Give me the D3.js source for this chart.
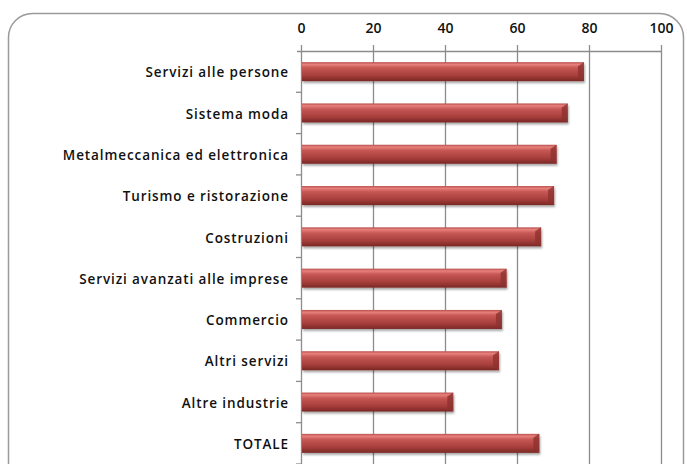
<!DOCTYPE html>
<html>
<head>
<meta charset="utf-8">
<script src="https://cdn.jsdelivr.net/npm/d3@7"></script>
<style>
  body { margin: 0; background: #fff; }
  svg text { font-family: "Open Sans", "DejaVu Sans", sans-serif; fill: #111; }
</style>
</head>
<body>
<div id="chart"></div>
<script>
// categories and values
var categories = [
  "Servizi alle persone",
  "Sistema moda",
  "Metalmeccanica ed elettronica",
  "Turismo e ristorazione",
  "Costruzioni",
  "Servizi avanzati alle imprese",
  "Commercio",
  "Altri servizi",
  "Altre industrie",
  "TOTALE"
];
var values = [78.6, 74.1, 71.0, 70.3, 66.7, 57.1, 55.8, 55.0, 42.3, 66.2];
var ticks = [0, 20, 40, 60, 80, 100];

var W = 687, H = 464;
var margin = { top: 51, right: 26, bottom: 0, left: 301 };
var width = 661 - margin.left,
    height = 464 - margin.top;

var svg = d3.select("#chart").append("svg")
    .attr("width", W)
    .attr("height", H);

var defs = svg.append("defs");
var grad = defs.append("linearGradient")
    .attr("id", "barGrad")
    .attr("x1", 0).attr("y1", 0).attr("x2", 0).attr("y2", 1);
grad.append("stop").attr("offset", "0%").attr("stop-color", "#b84e4b");
grad.append("stop").attr("offset", "12%").attr("stop-color", "#e8807c");
grad.append("stop").attr("offset", "30%").attr("stop-color", "#c65754");
grad.append("stop").attr("offset", "70%").attr("stop-color", "#a73f3c");
grad.append("stop").attr("offset", "100%").attr("stop-color", "#7a2725");

var shadow = defs.append("filter").attr("id", "shadow")
    .attr("x", "-5%").attr("y", "-20%").attr("width", "110%").attr("height", "160%");
shadow.append("feGaussianBlur").attr("in", "SourceAlpha").attr("stdDeviation", 1.2);
shadow.append("feOffset").attr("dx", 1).attr("dy", 1.5).attr("result", "off");
shadow.append("feComponentTransfer").append("feFuncA").attr("type", "linear").attr("slope", 0.35);
var merge = shadow.append("feMerge");
merge.append("feMergeNode");
merge.append("feMergeNode").attr("in", "SourceGraphic");

// outer rounded frame
svg.append("rect")
    .attr("x", 8.5).attr("y", 13.5)
    .attr("width", 675).attr("height", 480)
    .attr("rx", 24).attr("ry", 24)
    .attr("fill", "none")
    .attr("stroke", "#9a9a9a")
    .attr("stroke-width", 1.5);

var g = svg.append("g")
    .attr("transform", "translate(" + margin.left + "," + margin.top + ")");

var x = d3.scaleLinear().domain([0, 100]).range([0, width]);
var y = d3.scaleBand().domain(categories).range([0, height]).paddingInner(0.54).paddingOuter(0.27);
var band = d3.scaleBand().domain(categories).range([0, height]);

// vertical gridlines
g.selectAll(".grid")
    .data(ticks.slice(1))
    .enter().append("line")
    .attr("class", "grid")
    .attr("x1", function(d) { return Math.round(x(d)) + 0.5; })
    .attr("x2", function(d) { return Math.round(x(d)) + 0.5; })
    .attr("y1", 0)
    .attr("y2", height)
    .attr("stroke", "#8c8c8c")
    .attr("stroke-width", 1.3);

// top axis
var xAxis = g.append("g")
    .call(d3.axisTop(x).tickValues(ticks).tickSize(6).tickSizeOuter(0).tickPadding(12));
xAxis.select(".domain").attr("stroke", "#8c8c8c").attr("stroke-width", 1.3)
    .attr("d", "M-4,0.5H" + width);
xAxis.selectAll(".tick line").attr("stroke", "#8c8c8c").attr("stroke-width", 1.3);
xAxis.selectAll(".tick text")
    .style("font-size", "14px")
    .style("font-weight", "600")
    .style("font-family", "'Open Sans', sans-serif")
    .attr("fill", "#111");

// left category axis line + ticks
g.append("line")
    .attr("x1", 0.5).attr("x2", 0.5)
    .attr("y1", 0).attr("y2", height)
    .attr("stroke", "#8c8c8c").attr("stroke-width", 1.3);
g.selectAll(".ctick")
    .data(categories)
    .enter().append("line")
    .attr("class", "ctick")
    .attr("x1", -5).attr("x2", 0)
    .attr("y1", function(d) { return band(d) + band.bandwidth(); })
    .attr("y2", function(d) { return band(d) + band.bandwidth(); })
    .attr("stroke", "#8c8c8c").attr("stroke-width", 1.3);

// bars
g.selectAll(".bar")
    .data(categories)
    .enter().append("rect")
    .attr("class", "bar")
    .attr("x", 1)
    .attr("y", function(d) { return y(d); })
    .attr("width", function(d, i) { return x(values[i]) - 1; })
    .attr("height", y.bandwidth())
    .attr("fill", "url(#barGrad)")
    .attr("filter", "url(#shadow)");

// bevelled right end of each bar
g.selectAll(".cap")
    .data(categories)
    .enter().append("path")
    .attr("class", "cap")
    .attr("d", function(d, i) {
        var x1 = x(values[i]), y0 = y(d), h = y.bandwidth();
        return "M" + (x1 - 6) + "," + (y0 + 4) + "L" + x1 + "," + y0 +
               "L" + x1 + "," + (y0 + h) + "L" + (x1 - 6) + "," + (y0 + h - 3) + "Z";
    })
    .attr("fill", "#8d3230")
    .attr("opacity", 0.8);

// category labels
g.selectAll(".category-label")
    .data(categories)
    .enter().append("text")
    .attr("class", "category-label")
    .attr("x", -12)
    .attr("y", function(d) { return band(d) + band.bandwidth() / 2 + 1; })
    .attr("dy", "0.35em")
    .attr("text-anchor", "end")
    .style("font-size", "13.5px")
    .style("font-weight", "600")
    .style("letter-spacing", "0.9px")
    .text(function(d) { return d; });
</script>
</body>
</html>
